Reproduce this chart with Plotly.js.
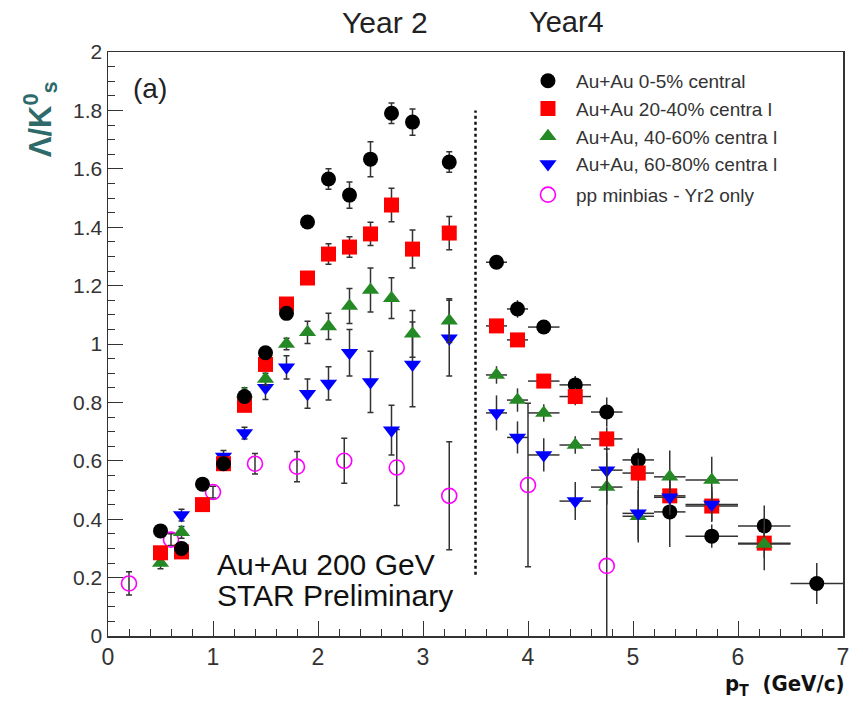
<!DOCTYPE html>
<html>
<head>
<meta charset="utf-8">
<script src="https://cdn.plot.ly/plotly-3.0.1.min.js"></script>
<style>
  html, body { margin: 0; padding: 0; background: #fff; }
  #chart { width: 863px; height: 704px; }
</style>
</head>
<body>
<div id="chart"></div>
<script>
// ---- Year 2 data (vertical stat. errors with caps) ----
const y2PtAuAu = [0.5, 0.7, 0.9, 1.1, 1.3, 1.5, 1.7, 1.9, 2.1, 2.3, 2.5, 2.7, 2.9, 3.25];
const y2Central05 = [0.36, 0.30, 0.52, 0.59, 0.82, 0.97, 1.105, 1.418, 1.565, 1.51, 1.633, 1.79, 1.76, 1.623];
const y2Central05Err = [0.02, 0.02, 0.015, 0.015, 0.02, 0.02, 0.02, 0.02, 0.035, 0.045, 0.06, 0.035, 0.045, 0.035];
const y2Central2040 = [0.285, 0.288, 0.45, 0.59, 0.79, 0.93, 1.137, 1.226, 1.308, 1.332, 1.377, 1.476, 1.325, 1.38];
const y2Central2040Err = [0.02, 0.02, 0.015, 0.015, 0.02, 0.02, 0.02, 0.02, 0.035, 0.035, 0.04, 0.057, 0.065, 0.057];

const y2PtMid = [0.5, 0.7, 1.3, 1.5, 1.7, 1.9, 2.1, 2.3, 2.5, 2.7, 2.9, 3.25];
const y2Central4060 = [0.25, 0.355, 0.83, 0.88, 1.0, 1.04, 1.06, 1.13, 1.185, 1.157, 1.035, 1.08];
const y2Central4060Err = [0.02, 0.02, 0.02, 0.02, 0.02, 0.038, 0.045, 0.06, 0.075, 0.07, 0.08, 0.075];

const y2PtPeriph = [0.7, 1.1, 1.3, 1.5, 1.7, 1.9, 2.1, 2.3, 2.5, 2.7, 2.9, 3.25];
const y2Central6080 = [0.414, 0.615, 0.695, 0.85, 0.92, 0.83, 0.865, 0.97, 0.87, 0.705, 0.93, 1.02];
const y2Central6080Err = [0.02, 0.02, 0.02, 0.04, 0.04, 0.05, 0.057, 0.08, 0.105, 0.085, 0.145, 0.13];

const ppPt = [0.2, 0.6, 1.0, 1.4, 1.8, 2.25, 2.75, 3.25, 4.0, 4.75];
const ppRatio = [0.18, 0.33, 0.493, 0.59, 0.58, 0.60, 0.577, 0.48, 0.517, 0.24];
const ppRatioErr = [0.04, 0.02, 0.02, 0.035, 0.052, 0.077, 0.13, 0.185, 0.28, 0.4];

// ---- Year 4 data (bin-width horizontal bars, no caps) ----
const y4Pt = [3.7, 3.9, 4.15, 4.45, 4.75, 5.05, 5.35, 5.75, 6.25, 6.75];
const y4PtHalfWidth = [0.1, 0.1, 0.15, 0.15, 0.15, 0.15, 0.15, 0.25, 0.25, 0.25];
const y4Central05 = [1.28, 1.12, 1.058, 0.86, 0.767, 0.603, 0.425, 0.342, 0.377, 0.18];
const y4Central05Err = [0.02, 0.03, 0.02, 0.03, 0.05, 0.04, 0.12, 0.04, 0.07, 0.07];
const y4Central2040 = [1.062, 1.014, 0.873, 0.82, 0.675, 0.558, 0.48, 0.445, 0.318];
const y4Central2040Err = [0.02, 0.02, 0.02, 0.03, 0.04, 0.05, 0.05, 0.05, 0.05];
const y4Central4060 = [0.894, 0.808, 0.764, 0.654, 0.51, 0.41, 0.545, 0.534, 0.315];
const y4Central4060Err = [0.03, 0.04, 0.03, 0.03, 0.06, 0.09, 0.09, 0.08, 0.09];
const y4Central6080 = [0.764, 0.68, 0.62, 0.462, 0.568, 0.42, 0.475, 0.45];
const y4Central6080Err = [0.06, 0.055, 0.057, 0.065, 0.06, 0.09, 0.06, 0.06];

const legendNames = [
  'Au+Au 0-5% central',
  'Au+Au 20-40% centra l',
  'Au+Au, 40-60% centra l',
  'Au+Au, 60-80% centra l',
  'pp minbias - Yr2 only'
];

const C_BLACK = '#000000', C_RED = '#ff0000', C_GREEN = '#258a25', C_BLUE = '#0000ff', C_MAG = '#ff00ff';
const ERR_COL = '#333333';

function year2(x, y, e, name, color, symbol, legendId) {
  const open = symbol.endsWith('-open');
  return {
    type: 'scatter', mode: 'markers', x: x, y: y, name: name, legend: legendId || 'legend',
    marker: open
      ? { symbol: symbol, size: 15, color: color, line: { color: color, width: 1.6 } }
      : { symbol: symbol, size: 15, color: color, line: { width: 0 } },
    error_y: { type: 'data', array: e, visible: true, color: ERR_COL, thickness: 1.5, width: 3 },
    hoverinfo: 'skip'
  };
}
function year4(y, e, color, symbol) {
  const n = y.length;
  return {
    type: 'scatter', mode: 'markers', x: y4Pt.slice(0, n), y: y, showlegend: false,
    marker: { symbol: symbol, size: 15, color: color, line: { width: 0 } },
    error_y: { type: 'data', array: e, visible: true, color: ERR_COL, thickness: 1.5, width: 0 },
    error_x: { type: 'data', array: y4PtHalfWidth.slice(0, n), visible: true, color: ERR_COL, thickness: 1.5, width: 0 },
    hoverinfo: 'skip'
  };
}

const traces = [
  year4(y4Central05, y4Central05Err, C_BLACK, 'circle'),
  year4(y4Central2040, y4Central2040Err, C_RED, 'square'),
  year4(y4Central4060, y4Central4060Err, C_GREEN, 'triangle-up'),
  year4(y4Central6080, y4Central6080Err, C_BLUE, 'triangle-down'),
  year2(ppPt, ppRatio, ppRatioErr, legendNames[4], C_MAG, 'circle-open', 'legend2'),
  year2(y2PtPeriph, y2Central6080, y2Central6080Err, legendNames[3], C_BLUE, 'triangle-down'),
  year2(y2PtMid, y2Central4060, y2Central4060Err, legendNames[2], C_GREEN, 'triangle-up'),
  year2(y2PtAuAu, y2Central2040, y2Central2040Err, legendNames[1], C_RED, 'square'),
  year2(y2PtAuAu, y2Central05, y2Central05Err, legendNames[0], C_BLACK, 'circle')
];

const TXT = '#222222';
const SANS = 'Liberation Sans, Arial, sans-serif';
const COND = 'DejaVu Sans Condensed, Liberation Sans, Arial, sans-serif';

const axisCommon = {
  showgrid: false, zeroline: false,
  showline: true, linecolor: '#333', linewidth: 1.5, mirror: true,
  ticks: 'inside', ticklen: 15, tickwidth: 1, tickcolor: '#333'
};

const legendFont = { family: SANS, size: 19, color: '#333' };

const layout = {
  width: 863, height: 704,
  margin: { l: 108, r: 20, t: 52, b: 68 },
  paper_bgcolor: '#fff', plot_bgcolor: '#fff',
  showlegend: true,
  legend: {
    x: 0.5605, y: 0.983, xanchor: 'left', yanchor: 'top', itemwidth: 46,
    traceorder: 'reversed', bgcolor: 'rgba(0,0,0,0)', font: legendFont
  },
  legend2: {
    x: 0.5605, y: 0.788, xanchor: 'left', yanchor: 'top', itemwidth: 46,
    bgcolor: 'rgba(0,0,0,0)', font: legendFont
  },
  xaxis: Object.assign({}, axisCommon, {
    range: [0, 7], dtick: 1, tick0: 0,
    minor: { dtick: 0.2, ticks: 'inside', ticklen: 7, tickcolor: '#333', showgrid: false },
    tickfont: { family: SANS, size: 23, color: '#333' }
  }),
  yaxis: Object.assign({}, axisCommon, {
    range: [0, 2], dtick: 0.2, tick0: 0,
    minor: { dtick: 0.05, ticks: 'inside', ticklen: 7, tickcolor: '#333', showgrid: false },
    tickfont: { family: SANS, size: 21, color: '#333' }
  }),
  shapes: [
    { type: 'line', xref: 'x', yref: 'y', x0: 3.5, x1: 3.5, y0: 0.21, y1: 1.8,
      line: { color: '#111', width: 2.5, dash: 'dot' } }
  ],
  annotations: [
    { text: 'Year 2', xref: 'paper', yref: 'paper', x: 0.377, y: 1.051, xanchor: 'center', yanchor: 'middle',
      showarrow: false, font: { family: SANS, size: 30, color: TXT } },
    { text: 'Year4', xref: 'paper', yref: 'paper', x: 0.624, y: 1.051, xanchor: 'center', yanchor: 'middle',
      showarrow: false, font: { family: SANS, size: 29, color: TXT } },
    { text: '(a)', xref: 'paper', yref: 'paper', x: 0.057, y: 0.938, xanchor: 'center', yanchor: 'middle',
      showarrow: false, font: { family: SANS, size: 28, color: TXT } },
    { text: 'Au+Au 200 GeV', xref: 'paper', yref: 'paper', x: 0.146, y: 0.122, xanchor: 'left', yanchor: 'middle',
      showarrow: false, font: { family: SANS, size: 30, color: '#111' } },
    { text: 'STAR Preliminary', xref: 'paper', yref: 'paper', x: 0.146, y: 0.070, xanchor: 'left', yanchor: 'middle',
      showarrow: false, font: { family: SANS, size: 30, color: '#111' } },
    { text: '<b>Λ/K<sup>0</sup><sub>s</sub></b>', xref: 'paper', yref: 'paper', x: -0.0925, y: 0.885,
      xanchor: 'center', yanchor: 'middle', textangle: -90, showarrow: false,
      font: { family: SANS, size: 31, color: '#2e6a6a' } },
    { text: '<b>p<sub>T</sub>  (GeV/c)</b>', xref: 'paper', yref: 'paper', x: 1.004, y: -0.085,
      xanchor: 'right', yanchor: 'middle', showarrow: false,
      font: { family: COND, size: 22, color: '#111' } }
  ]
};

Plotly.newPlot('chart', traces, layout, { staticPlot: true, displayModeBar: false });
</script>
</body>
</html>
